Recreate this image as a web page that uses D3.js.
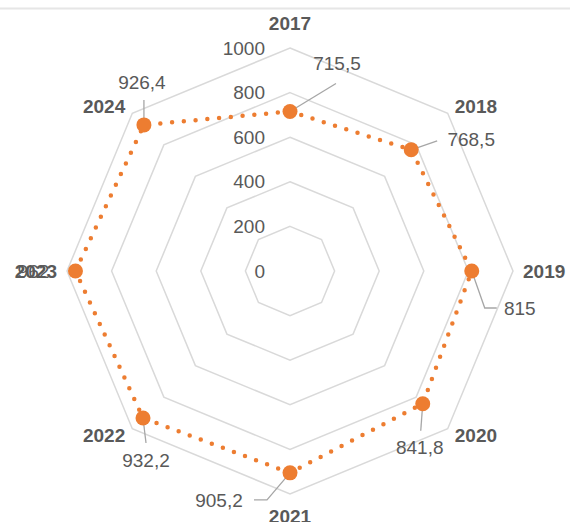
<!DOCTYPE html>
<html>
<head>
<meta charset="utf-8">
<script src="https://cdn.jsdelivr.net/npm/d3@7"></script>
<style>
  body { margin: 0; background: #fff; }
  svg text { font-family: "Liberation Sans", Arial, sans-serif; fill: #595959; }
</style>
</head>
<body>
<svg id="radar" width="570" height="522"></svg>
<script>
// data
var years  = ["2017", "2018", "2019", "2020", "2021", "2022", "2023", "2024"];
var values = [715.5, 768.5, 815, 841.8, 905.2, 932.2, 962, 926.4];
var labels = ["715,5", "768,5", "815", "841,8", "905,2", "932,2", "962", "926,4"];
var ticks  = [0, 200, 400, 600, 800, 1000];

// where each value label sits relative to its point, plus its leader line
var labelLayout = [
  { dx: 47,  dy: -48, leader: [[0, 0], [46, -28]] },
  { dx: 60,  dy: -10, leader: [[0, 0], [26, -9]] },
  { dx: 48,  dy: 37,  leader: [[0, 0], [13, 37], [25, 37]] },
  { dx: -3,  dy: 44,  leader: [[0, 0], [-2, 27]] },
  { dx: -71, dy: 27,  leader: [[0, 0], [-23, 27], [-36, 27]] },
  { dx: 3,   dy: 42,  leader: [[0, 0], [3, 25]] },
  { dx: -42, dy: 0,   leader: null },
  { dx: -2,  dy: -43, leader: [[0, 0], [0, -25]] }
];

var svg = d3.select("svg#radar"),
    cx = 290, cy = 271;

var r = d3.scaleLinear().domain([0, 1000]).range([0, 223]);
var angle = d3.scalePoint().domain(years).range([0, 2 * Math.PI * 7 / 8]);

function px(year, v) { return cx + r(v) * Math.sin(angle(year)); }
function py(year, v) { return cy - r(v) * Math.cos(angle(year)); }

// thin line along the top
svg.append("line")
    .attr("x1", 0).attr("x2", 570)
    .attr("y1", 8.5).attr("y2", 8.5)
    .style("stroke", "#e6e6e6")
    .style("stroke-width", 2);

var g = svg.append("g").attr("transform", "translate(" + cx + "," + cy + ")");

// grid rings
var ring = d3.lineRadial()
    .angle(function(d) { return angle(d); })
    .curve(d3.curveLinearClosed);

g.append("g")
    .selectAll("path")
    .data(ticks.slice(1))
    .enter().append("path")
    .attr("d", function(t) { return ring.radius(r(t))(years); })
    .style("fill", "none")
    .style("stroke", "#d9d9d9")
    .style("stroke-width", 1.5);

// tick labels
g.append("g")
    .selectAll("text")
    .data(ticks)
    .enter().append("text")
    .attr("x", -25)
    .attr("y", function(t) { return -r(t); })
    .attr("dy", "0.35em")
    .attr("text-anchor", "end")
    .style("font-size", "19px")
    .text(function(t) { return t; });

// data line
var series = years.map(function(y, i) { return { year: y, value: values[i], label: labels[i], lay: labelLayout[i] }; });

var dataLine = d3.lineRadial()
    .angle(function(d) { return angle(d.year); })
    .radius(function(d) { return r(d.value); })
    .curve(d3.curveLinearClosed);

g.append("path")
    .datum(series)
    .attr("d", dataLine)
    .style("fill", "none")
    .style("stroke", "#ed7d31")
    .style("stroke-width", 4.5)
    .style("stroke-linecap", "round")
    .style("stroke-dasharray", "0 11.8");

// leader lines
var leader = d3.line();
svg.append("g")
    .selectAll("path")
    .data(series.filter(function(d) { return d.lay.leader; }))
    .enter().append("path")
    .attr("d", function(d) {
      var x0 = px(d.year, d.value), y0 = py(d.year, d.value);
      return leader(d.lay.leader.map(function(p) { return [x0 + p[0], y0 + p[1]]; }));
    })
    .style("fill", "none")
    .style("stroke", "#a6a6a6")
    .style("stroke-width", 1.3);

// markers
svg.append("g")
    .selectAll("circle")
    .data(series)
    .enter().append("circle")
    .attr("cx", function(d) { return px(d.year, d.value); })
    .attr("cy", function(d) { return py(d.year, d.value); })
    .attr("r", 7.5)
    .style("fill", "#ed7d31");

// value labels
svg.append("g")
    .selectAll("text")
    .data(series)
    .enter().append("text")
    .attr("x", function(d) { return px(d.year, d.value) + d.lay.dx; })
    .attr("y", function(d) { return py(d.year, d.value) + d.lay.dy; })
    .attr("dy", "0.35em")
    .attr("text-anchor", "middle")
    .style("font-size", "19px")
    .text(function(d) { return d.label; });

// category labels
var labelR = 233;
svg.append("g")
    .selectAll("text")
    .data(years)
    .enter().append("text")
    .attr("x", function(y) { return cx + labelR * Math.sin(angle(y)); })
    .attr("y", function(y) {
      var c = Math.cos(angle(y));
      var extra = Math.abs(c) > 0.99 ? (c > 0 ? -15 : 12) : 0;
      return cy - labelR * c + extra;
    })
    .attr("dy", "0.35em")
    .attr("text-anchor", function(y) {
      var s = Math.sin(angle(y));
      return Math.abs(s) < 0.01 ? "middle" : (s > 0 ? "start" : "end");
    })
    .style("font-size", "19px")
    .style("font-weight", "bold")
    .text(function(y) { return y; });
</script>
</body>
</html>
